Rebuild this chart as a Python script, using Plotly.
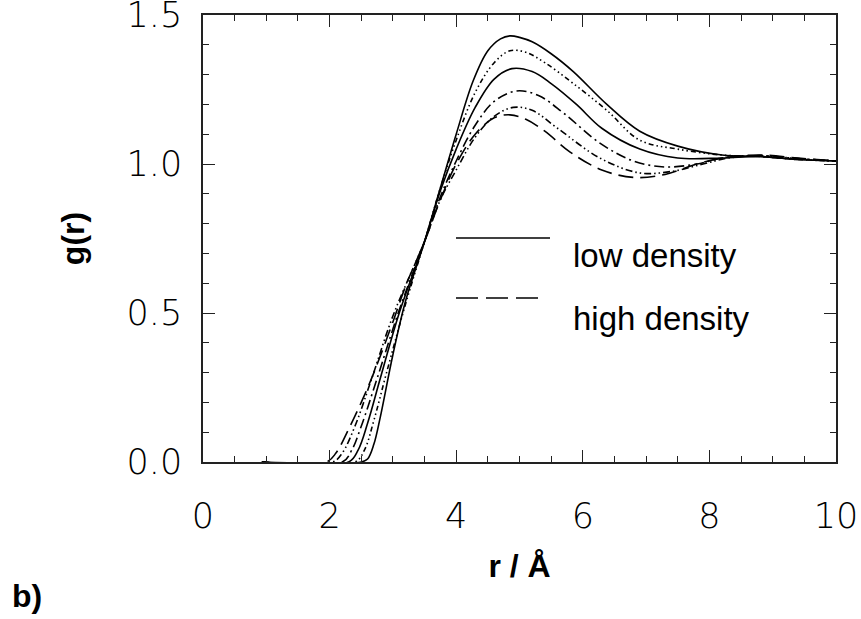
import plotly.graph_objects as go

# ---- data ----
r_A = [0.93, 2.5, 2.6, 2.7, 2.8, 3.0, 3.2, 3.5, 3.75, 4.0, 4.27, 4.5, 4.7, 4.85, 5.0, 5.2, 5.5, 5.85, 6.38, 6.9, 7.5, 8.2, 8.8, 9.4, 10.0]
g_A = [0, 0, 0.01, 0.06, 0.15, 0.36, 0.54, 0.74, 0.92, 1.10, 1.28, 1.38, 1.42, 1.43, 1.425, 1.41, 1.37, 1.31, 1.20, 1.11, 1.06, 1.03, 1.025, 1.015, 1.01]

r_B = [0.93, 2.4, 2.55, 2.7, 2.9, 3.2, 3.5, 3.75, 4.0, 4.3, 4.6, 4.85, 5.1, 5.4, 5.85, 6.38, 6.9, 7.5, 8.2, 8.8, 9.4, 10.0]
g_B = [0, 0, 0.04, 0.14, 0.30, 0.53, 0.74, 0.92, 1.08, 1.24, 1.34, 1.38, 1.375, 1.34, 1.27, 1.18, 1.08, 1.05, 1.03, 1.025, 1.015, 1.01]

r_C = [0.93, 2.3, 2.45, 2.6, 2.8, 3.1, 3.5, 3.75, 4.0, 4.3, 4.6, 4.88, 5.2, 5.5, 5.9, 6.3, 6.9, 7.5, 8.2, 8.8, 9.4, 10.0]
g_C = [0, 0, 0.04, 0.13, 0.28, 0.50, 0.74, 0.91, 1.05, 1.19, 1.285, 1.32, 1.31, 1.27, 1.20, 1.12, 1.05, 1.02, 1.02, 1.025, 1.015, 1.01]

r_D = [0.93, 2.2, 2.35, 2.5, 2.75, 3.1, 3.5, 3.75, 4.0, 4.3, 4.6, 4.95, 5.3, 5.7, 6.27, 6.8, 7.3, 7.8, 8.2, 8.8, 9.4, 10.0]
g_D = [0, 0, 0.04, 0.12, 0.28, 0.51, 0.74, 0.89, 1.01, 1.13, 1.21, 1.245, 1.23, 1.17, 1.07, 1.01, 0.99, 1.00, 1.02, 1.028, 1.018, 1.01]

r_E = [0.93, 2.05, 2.2, 2.4, 2.65, 3.0, 3.5, 3.75, 4.0, 4.3, 4.6, 4.9, 5.2, 5.6, 6.27, 6.9, 7.4, 7.9, 8.3, 8.8, 9.4, 10.0]
g_E = [0, 0, 0.03, 0.12, 0.27, 0.49, 0.74, 0.88, 0.98, 1.09, 1.16, 1.19, 1.18, 1.12, 1.02, 0.97, 0.975, 1.00, 1.02, 1.028, 1.018, 1.01]

r_F = [0.93, 1.95, 2.1, 2.3, 2.5, 2.7, 3.0, 3.2, 3.5, 3.75, 4.0, 4.3, 4.6, 4.85, 5.1, 5.4, 5.8, 6.3, 6.8, 7.3, 7.8, 8.2, 8.8, 9.4, 10.0]
g_F = [0, 0, 0.03, 0.11, 0.20, 0.30, 0.47, 0.59, 0.74, 0.88, 1.00, 1.10, 1.155, 1.165, 1.15, 1.11, 1.04, 0.98, 0.955, 0.965, 1.00, 1.02, 1.03, 1.02, 1.01]

x_ticks = [0, 2, 4, 6, 8, 10]
y_ticks = [0.0, 0.5, 1.0, 1.5]
legend_labels = ["low density", "high density"]

series = [
    (r_A, g_A, "solid"),
    (r_B, g_B, "5px,3px,1.5px,3px,1.5px,3px,1.5px,3px"),
    (r_C, g_C, "solid"),
    (r_D, g_D, "10px,4px,2px,4px"),
    (r_E, g_E, "7px,3px,1.5px,3px,1.5px,3px"),
    (r_F, g_F, "15px,7px"),
]

fig = go.Figure()
for rr, gg, dash in series:
    fig.add_trace(go.Scatter(x=rr, y=gg, mode="lines",
                             line=dict(color="black", width=1.6, dash=dash, shape="spline", smoothing=1.0),
                             showlegend=False, hoverinfo="skip"))

tickfont = dict(family="DejaVu Sans ExtraLight, DejaVu Sans", size=35, color="black", weight=200)
axis_common = dict(showline=True, linecolor="#222", linewidth=1.5, mirror="allticks", ticks="inside",
                   ticklen=12, tickwidth=1.3, tickcolor="#222", showgrid=False, zeroline=False,
                   tickfont=tickfont, automargin=False, ticklabeloverflow="allow")

fig.update_xaxes(range=[0, 10], tickvals=x_ticks, ticktext=[str(v) for v in x_ticks],
                 minor=dict(dtick=0.5, ticks="inside", ticklen=6, tickcolor="#222", tickwidth=1.2, showgrid=False),
                 ticklabelstandoff=22,
                 title=dict(text="<b>r / Å</b>", font=dict(family="Liberation Sans, Arial", size=32, color="black"), standoff=20),
                 **axis_common)
fig.update_yaxes(range=[0, 1.5], tickvals=y_ticks, ticktext=["%.1f" % v for v in y_ticks],
                 minor=dict(dtick=0.1, ticks="inside", ticklen=6, tickcolor="#222", tickwidth=1.2, showgrid=False),
                 ticklabelstandoff=12,
                 title=dict(text="<b>g(r)</b>", font=dict(family="Liberation Sans, Arial", size=32, color="black"), standoff=32),
                 **axis_common)

# legend key (drawn manually, in paper coordinates)
ann_font = dict(family="Liberation Sans, Arial", size=33, color="black")
def px_x(p):
    return (p - 203) / 633.0
def px_y(p):
    return (462 - p) / 447.0

fig.add_shape(type="line", xref="paper", yref="paper", x0=px_x(456), x1=px_x(550), y0=px_y(238), y1=px_y(238),
              line=dict(color="black", width=1.6))
fig.add_shape(type="line", xref="paper", yref="paper", x0=px_x(456), x1=px_x(542), y0=px_y(298), y1=px_y(298),
              line=dict(color="black", width=1.6, dash="22px,8px"))
fig.add_annotation(xref="paper", yref="paper", x=px_x(571), y=px_y(256), text=legend_labels[0], showarrow=False,
                   xanchor="left", yanchor="middle", font=ann_font)
fig.add_annotation(xref="paper", yref="paper", x=px_x(571), y=px_y(318), text=legend_labels[1], showarrow=False,
                   xanchor="left", yanchor="middle", font=ann_font)
fig.add_annotation(xref="paper", yref="paper", x=px_x(10), y=px_y(596), text="<b>b)</b>", showarrow=False,
                   xanchor="left", yanchor="middle", font=dict(family="Liberation Sans, Arial", size=32, color="black"))

fig.update_layout(width=861, height=619, margin=dict(l=203, r=25, t=15, b=157),
                  paper_bgcolor="white", plot_bgcolor="white")
fig.write_html("out.html", config={"displayModeBar": False},
               post_script="document.body.style.margin='0';document.body.style.overflow='hidden';")
